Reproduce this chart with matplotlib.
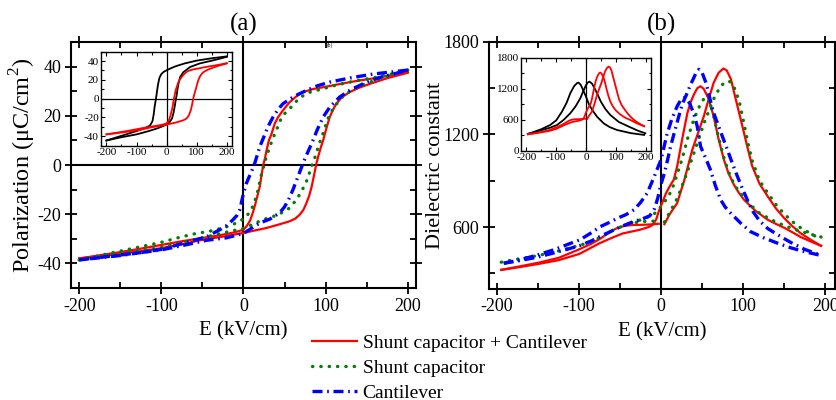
import numpy as np
import matplotlib
matplotlib.use('Agg')
import matplotlib.pyplot as plt
from matplotlib.ticker import MultipleLocator

plt.rcParams['font.family'] = ['Liberation Serif', 'DejaVu Serif']
plt.rcParams['mathtext.fontset'] = 'custom'
plt.rcParams['mathtext.rm'] = 'Liberation Serif'
plt.rcParams['axes.unicode_minus'] = False

nan = np.nan

# ---------------- (a) polarization loops ----------------
# shunt capacitor + cantilever (red)
E_red_dn = [200, 180, 160, 140, 120, 100, 85, 72, 64, 56, 48, 42, 38, 34, 31, 28, 26, 24, 22, 20, 17, 14, 11, 8, 4, 0,
            -10, -20, -35, -53, -75, -100, -125, -150, -175, -200]
P_red_dn = [37.8, 36.5, 35.3, 34.3, 33.1, 31.8, 30.9, 29.6, 27.8, 25.5, 22.2, 19.4, 16.8, 12.5, 10.1, 5.8, 2.5, 0, -4.0,
            -8.5, -12.5, -16.4, -19.8, -22.6, -24.8, -26.3, -27.3, -28.0, -28.9, -29.8, -31.0, -32.5, -34.0, -35.4,
            -36.7, -38.0]
E_red_up = [-200, -175, -150, -125, -100, -75, -53, -25, 0, 28, 45, 56, 63, 68.5, 73, 76.6, 80, 83, 86, 88.8, 91, 94,
            97, 101, 105, 109, 113, 120, 129, 140, 154, 175, 200]
P_red_up = [-38.0, -37.0, -36.0, -35.0, -33.8, -32.2, -30.6, -29.1, -27.6, -25.6, -24.0, -22.9, -21.8, -20.2, -18.2,
            -15.5, -12.5, -8.8, -4.0, 0.7, 3.5, 7.0, 10.1, 15.0, 19.5, 22.5, 24.9, 27.6, 29.6, 31.3, 33.0, 35.3, 37.5]

# shunt capacitor (green)
E_grn_dn = [200, 180, 162, 140, 125, 110, 97, 80, 68, 60, 54, 48, 44, 40, 36, 32, 28, 25, 21, 17.8, 14, 10, 4, -4.5,
            -15, -25, -41, -60, -80, -102, -125, -150, -175, -200]
P_grn_dn = [38.6, 37.0, 35.7, 34.4, 33.4, 32.2, 31.0, 29.5, 27.3, 24.2, 22.2, 20.2, 17.6, 14.1, 11.0, 7.4, 3.5, 0,
            -5.0, -10.1, -14.5, -17.8, -20.8, -22.9, -24.5, -25.6, -26.9, -28.0, -29.6, -31.6, -33.2, -35.0, -36.8,
            -38.6]
E_grn_up = [-200, -175, -150, -125, -100, -75, -50, -25, 0, 12, 24, 40, 50, 56, 64.5, 71, 76.6, 80, 84, 88, 92, 97,
            103, 110, 120, 130, 140, 155, 170, 185, 200]
P_grn_up = [-38.6, -37.2, -36.0, -34.8, -33.5, -31.6, -29.6, -27.6, -25.8, -24.0, -22.2, -20.5, -18.8, -17.5, -14.1,
            -10.5, -6.7, -3.5, 0.5, 4.0, 8.5, 13.0, 19.0, 23.5, 27.5, 30.0, 31.8, 33.8, 35.6, 37.2, 38.6]

# cantilever (blue)
E_blu_dn = [200, 180, 158, 130, 105, 90, 76.6, 62, 48, 42, 36, 32, 28, 24, 19.8, 16, 13.7, 10, 6, 3.6, 0, -4.5, -8,
            -12.6, -20, -28.8, -45, -70, -100, -125, -150, -175, -200]
P_blu_dn = [38.6, 37.8, 37.0, 35.4, 33.7, 32.2, 30.3, 28.0, 24.9, 22.5, 19.5, 17.0, 14.1, 10.8, 7.4, 3.2, 0.7, -2.5,
            -5.5, -7.4, -11.5, -18.2, -20.5, -22.2, -24.5, -26.3, -29.2, -31.5, -34.3, -35.6, -36.8, -37.7, -38.6]
E_blu_up = [-200, -175, -150, -125, -100, -75, -45, -20.7, 0, 19.8, 32, 44, 50, 55, 60.3, 66, 72.5, 76, 80, 84.7, 90,
            97, 105, 117, 130, 145.5, 165, 185, 200]
P_blu_up = [-38.6, -37.6, -36.6, -35.6, -34.5, -32.8, -30.6, -29.6, -27.8, -23.6, -22.0, -19.5, -17.0, -14.0, -10.0,
            -5.0, 0.7, 3.5, 6.5, 10.1, 14.5, 19.5, 23.5, 27.6, 30.5, 33.0, 35.5, 37.2, 38.6]

# inset (a): black loop
E_blk_dn = [200, 150, 100, 60, 30, 10, 0, -10, -18, -24, -28, -31, -34, -37, -40, -43, -47, -55, -70, -100, -150, -200]
P_blk_dn = [45, 43, 40.5, 37.5, 34.5, 31.8, 30.2, 28.5, 26, 22, 16, 10, 3, -3, -9, -17, -24, -28.5, -31, -34.5,
            -39.5, -44.5]
E_blk_up = [-200, -150, -100, -60, -30, 0, 10, 18, 23, 27, 30, 33, 36, 40, 45, 55, 78, 110, 155, 200]
P_blk_up = [-44.5, -41, -38, -34.5, -31.5, -27.5, -25, -21, -15, -8, -2, 3, 10, 17, 23, 28, 33.7, 37.5, 40.8, 44.5]

# ---------------- (b) dielectric constant ----------------
E_rd_up = [-195, -175, -150, -125, -100, -85, -75, -65, -55, -45, -35, -25, -15, -3, nan,
           4, 10, 19.5, 28, 38, 45, 52, 58, 64, 70, 76, 80, 85, 90, 96, 101, 106, 111, 120, 130, 140, 150, 160, 170,
           183, 195]
K_rd_up = [322, 342, 368, 400, 455, 492, 522, 558, 590, 607, 613, 614, 616, 621, nan,
           618, 680, 755, 900, 1102, 1210, 1318, 1430, 1535, 1600, 1628, 1615, 1560, 1450, 1320, 1210, 1100, 995,
           880, 798, 720, 658, 605, 560, 515, 478]
E_rd_dn = [195, 183, 170, 162, 150, 140, 130, 115, 101, 95, 88.7, 82, 76.5, 70, 64, 58, 52, 48, 44, 40, 36, 32, 26,
           19.5, 15.4, 10, 6, 3, 0, -3, -6, -10, -15, -26, -47, -60, -75, -100, -125, -150, -175, -195]
K_rd_dn = [478, 505, 535, 560, 595, 620, 647, 705, 777, 820, 874, 950, 1037, 1170, 1318, 1430, 1495, 1513, 1500,
           1460, 1410, 1340, 1180, 993, 907, 860, 820, 780, 740, 700, 650, 615, 600, 582, 558, 530, 495, 425, 385,
           360, 338, 322]

E_gn_up = [-195, -175, -150, -125, -100, -85, -70, -55, -40, -30, -20, -10, -3, nan,
           4, 10, 20, 30, 40, 52, 64, 72, 78, 83, 88, 95, 101, 106, 111, 120, 130, 140, 150, 160, 170, 183, 195]
K_gn_up = [372, 392, 415, 445, 480, 505, 545, 590, 618, 630, 636, 638, 641, nan,
           632, 690, 790, 930, 1080, 1270, 1430, 1510, 1540, 1546, 1520, 1420, 1270, 1140, 1030, 900, 820, 745, 685,
           635, 595, 555, 520]
E_gn_dn = [195, 183, 170, 160, 150, 140, 130, 120, 113, 101, 95, 88.7, 82, 76.5, 70, 64, 60, 56, 52, 48, 44, 40, 32,
           26, 20, 15, 10, 5, 0, -5, -10, -20, -30, -40]
K_gn_dn = [535, 552, 572, 590, 610, 632, 660, 690, 723, 790, 830, 880, 960, 1050, 1180, 1320, 1400, 1438, 1430,
           1400, 1350, 1300, 1170, 1050, 950, 870, 810, 770, 735, 700, 680, 655, 638, 622]

E_bl_up = [-192, -175, -150, -131, -115, -99, -85, -74, -60, -50, -34, -24, -14, -8, -4, -1, 4, 8, 11.4, 15.4, 21.5,
           26, 31.8, 36, 40, 43, 46, 50, 55, 60, 64, 72, 80.7, 87, 93, 99, 105, 112, 120, 130, 142, 158, 175, 192]
K_bl_up = [365, 380, 405, 432, 455, 480, 510, 540, 575, 600, 635, 650, 672, 720, 790, 863, 950, 1040, 1120, 1200,
           1318, 1400, 1470, 1525, 1570, 1605, 1622, 1600, 1530, 1420, 1340, 1225, 1102, 1010, 928, 850, 777, 700,
           640, 590, 550, 500, 455, 422]
E_bl_dn = [192, 175, 158, 142, 125, 109, 97, 84.7, 78, 72.5, 66, 60, 54, 48, 44, 40, 35, 31, 28, 24, 19.5, 13, 7, 0,
           -9, -17, -25, -33, -43, -53, -63, -74, -86, -99, -115, -131, -150, -170, -192]
K_bl_dn = [419, 440, 465, 495, 530, 570, 625, 690, 730, 777, 870, 972, 1050, 1123, 1253, 1330, 1400, 1430, 1438,
           1425, 1383, 1300, 1200, 1040, 920, 820, 760, 712, 680, 658, 630, 603, 560, 517, 485, 452, 420, 390, 365]

# inset (b): black curves
E_bk_a = [-195, -187, -150, -120, -100, -80.6, -65, -52.7, -40, -30, -25, -18, -10, -2.3, 10, 20, 36.9, 60, 80, 104,
          150, 195]
K_bk_a = [330, 342, 420, 502, 590, 759, 930, 1114, 1250, 1310, 1318, 1280, 1180, 1081, 900, 800, 662, 530, 460, 405,
          345, 310]
E_bk_b = [-195, -150, -120, -97, -75, -52.7, -35, -19, -8, 0, 6, 12, 20, 28, 37, 50, 65, 81.5, 110, 148.7, 175, 199]
K_bk_b = [330, 400, 450, 502, 600, 728, 860, 1017, 1170, 1270, 1320, 1338, 1300, 1220, 1114, 950, 810, 695, 560, 457,
          390, 342]

red = '#ff0000'
green = '#008000'
blue = '#0000ff'

fig = plt.figure(figsize=(8.36, 4.0), dpi=100)
ax1 = fig.add_axes([0.0849, 0.28, 0.4127, 0.615])
ax2 = fig.add_axes([0.5849, 0.2783, 0.4139, 0.6168])

red_kw = dict(color=red, lw=1.6)
grn_kw = dict(color=green, lw=2.4, linestyle=(0, (0.1, 2.4)), dash_capstyle='round')
blu_kw = dict(color=blue, lw=2.4, linestyle=(0, (3.0, 1.4, 0.5, 1.4)))

l_red, = ax1.plot(E_red_up, P_red_up, **red_kw)
ax1.plot(E_red_dn, P_red_dn, **red_kw)
l_grn, = ax1.plot(E_grn_up, P_grn_up, **grn_kw)
ax1.plot(E_grn_dn, P_grn_dn, **grn_kw)
l_blu, = ax1.plot(E_blu_up, P_blu_up, **blu_kw)
ax1.plot(E_blu_dn, P_blu_dn, **blu_kw)
ax1.axhline(0, color='k', lw=1.5, zorder=0)
ax1.axvline(0, color='k', lw=1.5, zorder=0)
ax1.set_xlim(-210, 210)
ax1.set_ylim(-50, 50)
ax1.xaxis.set_major_locator(MultipleLocator(100))
ax1.xaxis.set_minor_locator(MultipleLocator(50))
ax1.yaxis.set_major_locator(MultipleLocator(20))
ax1.yaxis.set_minor_locator(MultipleLocator(10))
ax1.set_xlabel('E (kV/cm)', fontsize=15, labelpad=5)
ax1.set_ylabel('Polarization (μC/cm$^{2}$)', fontsize=17.5)
ax1.yaxis.set_label_coords(-0.096, 0.5)
ax1.set_title('(a)', fontsize=18, pad=8)

ax2.plot(E_rd_up, K_rd_up, **red_kw)
ax2.plot(E_rd_dn, K_rd_dn, **red_kw)
ax2.plot(E_gn_up, K_gn_up, **grn_kw)
ax2.plot(E_gn_dn, K_gn_dn, **grn_kw)
ax2.plot(E_bl_up, K_bl_up, **blu_kw)
ax2.plot(E_bl_dn, K_bl_dn, **blu_kw)
ax2.axvline(0, color='k', lw=1.5, zorder=0)
ax2.set_xlim(-210, 212)
ax2.set_ylim(200, 1800)
ax2.xaxis.set_major_locator(MultipleLocator(100))
ax2.xaxis.set_minor_locator(MultipleLocator(50))
ax2.yaxis.set_major_locator(MultipleLocator(600))
ax2.yaxis.set_minor_locator(MultipleLocator(300))
ax2.set_xlabel('E (kV/cm)', fontsize=15, labelpad=5)
ax2.set_ylabel('Dielectric constant', fontsize=16)
ax2.yaxis.set_label_coords(-0.128, 0.5)
ax2.set_title('(b)', fontsize=18, pad=8)

for ax in (ax1, ax2):
    for s in ax.spines.values():
        s.set_linewidth(1.5)
    ax.tick_params(which='both', top=True, right=True, labelsize=13, width=1.3, pad=3)
    ax.tick_params(which='major', direction='inout', length=8)
    ax.tick_params(which='minor', direction='in', length=4)

# insets
in1 = fig.add_axes([0.1208, 0.6358, 0.157, 0.235])
in1.plot(E_blk_up, P_blk_up, color='k', lw=1.3)
in1.plot(E_blk_dn, P_blk_dn, color='k', lw=1.3)
in1.plot(E_red_up, P_red_up, color=red, lw=1.3)
in1.plot(E_red_dn, P_red_dn, color=red, lw=1.3)
in1.axhline(0, color='k', lw=0.9, zorder=0)
in1.axvline(0, color='k', lw=0.9, zorder=0)
in1.set_xlim(-218, 218)
in1.set_ylim(-50, 50)
in1.xaxis.set_major_locator(MultipleLocator(100))
in1.xaxis.set_minor_locator(MultipleLocator(50))
in1.yaxis.set_major_locator(MultipleLocator(20))
in1.yaxis.set_minor_locator(MultipleLocator(10))

in2 = fig.add_axes([0.6232, 0.6225, 0.1555, 0.2333])
in2.plot(E_bk_a, K_bk_a, color='k', lw=1.3)
in2.plot(E_bk_b, K_bk_b, color='k', lw=1.3)
in2.plot(E_rd_up, K_rd_up, color=red, lw=1.3)
in2.plot(E_rd_dn, K_rd_dn, color=red, lw=1.3)
in2.axvline(0, color='k', lw=0.9, zorder=0)
in2.set_xlim(-218, 218)
in2.set_ylim(0, 1800)
in2.xaxis.set_major_locator(MultipleLocator(100))
in2.xaxis.set_minor_locator(MultipleLocator(50))
in2.yaxis.set_major_locator(MultipleLocator(600))
in2.yaxis.set_minor_locator(MultipleLocator(300))

for ax in (in1, in2):
    for s in ax.spines.values():
        s.set_linewidth(1.0)
    ax.tick_params(which='both', top=True, right=True, direction='in', labelsize=8, width=0.8, pad=1.5)
    ax.tick_params(which='major', length=3)
    ax.tick_params(which='minor', length=1.8)

fig.text(330 / 836, 1 - 45 / 400, '(b)', fontsize=4, ha='center', va='center')

fig.legend([l_red, l_grn, l_blu], ['Shunt capacitor + Cantilever', 'Shunt capacitor', 'Cantilever'],
           loc='upper left', bbox_to_anchor=(312 / 836, 1 - 334 / 400), frameon=False, fontsize=14,
           handlelength=2.3, handletextpad=0.3, labelspacing=0.38, borderpad=0, borderaxespad=0)

fig.savefig('out.png', dpi=100)
